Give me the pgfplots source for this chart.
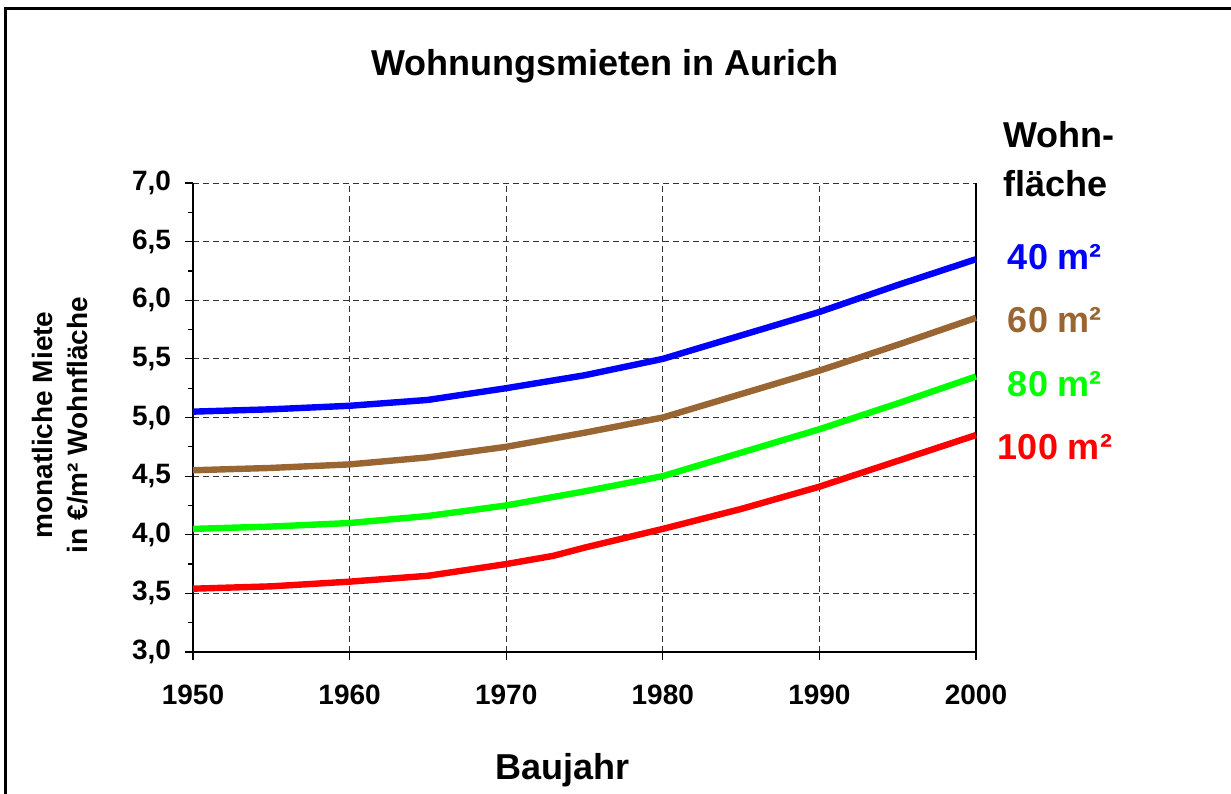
\documentclass[border=0pt]{standalone}
\usepackage{fontspec}
\setmainfont{Liberation Sans}
\usepackage{pgfplots}
\pgfplotsset{compat=1.18}
\definecolor{cblue}{RGB}{0,0,255}
\definecolor{cbrown}{RGB}{153,102,51}
\definecolor{cgreen}{RGB}{0,255,0}
\definecolor{cred}{RGB}{255,0,0}
\begin{document}
\begin{tikzpicture}
\useasboundingbox (-96.5pt,-70.5pt) rectangle (519pt,326pt);
\draw[line width=1.5pt] (-93.5pt,-75pt) -- (-93.5pt,321.5pt) -- (525pt,321.5pt);
\begin{axis}[
 at={(0pt,0pt)}, anchor=south west,
 scale only axis, width=391.5pt, height=234.5pt,
 xmin=1950, xmax=2000, ymin=3, ymax=7,
 axis x line*=bottom, axis y line*=left,
 axis line style={-, line width=1pt, black},
 xtick={1950,1960,...,2000}, ytick={3,3.5,...,7},
 minor y tick num=1,
 tick align=outside,
 major tick length=4pt, minor tick length=2.5pt,
 tick style={black, line width=0.6pt},
 grid=major,
 major grid style={dash pattern=on 3pt off 2pt, black!80, line width=0.5pt},
 extra x ticks={2000}, extra x tick labels={},
 extra x tick style={grid=major, major grid style={solid, black, line width=0.6pt}, major tick length=0pt},
 ticklabel style={font=\fontsize{14}{16}\selectfont\bfseries},
 /pgf/number format/assume math mode=true,
 xticklabel style={/pgf/number format/1000 sep={}, yshift=-9pt},
 yticklabel style={/pgf/number format/.cd, fixed, fixed zerofill, precision=1, use comma, 1000 sep={}, /tikz/xshift=-3.5pt},
 xlabel={Baujahr},
 xlabel style={at={(axis description cs:0.4725,0)}, anchor=base, yshift=-63.5pt, font=\fontsize{18}{22}\selectfont\bfseries},
 ylabel={monatliche Miete\\in €/m² Wohnfläche},
 ylabel style={at={(axis description cs:-0.1699,0.484)}, anchor=center, align=center, font=\fontsize{14}{17.5}\selectfont\bfseries},
 clip=false,
]
\addplot[cblue, line width=3.2pt, line join=round] coordinates {
(1950,5.05) (1955,5.07) (1960,5.10) (1965,5.15) (1970,5.25) (1975,5.36) (1980,5.50) (1985,5.70) (1990,5.90) (1995,6.13) (2000,6.35)};
\addplot[cbrown, line width=3.2pt, line join=round] coordinates {
(1950,4.55) (1955,4.57) (1960,4.60) (1965,4.66) (1970,4.75) (1975,4.87) (1980,5.00) (1985,5.20) (1990,5.40) (1995,5.62) (2000,5.85)};
\addplot[cgreen, line width=3.2pt, line join=round] coordinates {
(1950,4.05) (1955,4.07) (1960,4.10) (1965,4.16) (1970,4.25) (1975,4.37) (1980,4.50) (1985,4.70) (1990,4.90) (1995,5.12) (2000,5.35)};
\addplot[cred, line width=3.2pt, line join=round] coordinates {
(1950,3.54) (1955,3.56) (1960,3.60) (1965,3.65) (1970,3.75) (1973,3.82) (1975,3.89) (1980,4.05) (1985,4.22) (1990,4.41) (1995,4.63) (2000,4.85)};
\end{axis}
\node[anchor=base, font=\fontsize{18}{22}\selectfont\bfseries] at (206pt,288pt) {Wohnungsmieten in Aurich};
\node[anchor=base west, inner sep=0pt, font=\fontsize{18}{22}\selectfont\bfseries] at (405pt,252pt) {Wohn-};
\node[anchor=base west, inner sep=0pt, font=\fontsize{18}{22}\selectfont\bfseries] at (405pt,227.5pt) {fläche};
\node[anchor=base, inner sep=0pt, text=cblue, font=\fontsize{18}{22}\selectfont\bfseries] at (431pt,191pt) {40 m²};
\node[anchor=base, inner sep=0pt, text=cbrown, font=\fontsize{18}{22}\selectfont\bfseries] at (431pt,159.5pt) {60 m²};
\node[anchor=base, inner sep=0pt, text=cgreen, font=\fontsize{18}{22}\selectfont\bfseries] at (431pt,127.5pt) {80 m²};
\node[anchor=base, inner sep=0pt, text=cred, font=\fontsize{18}{22}\selectfont\bfseries] at (431pt,96pt) {100 m²};
\end{tikzpicture}
\end{document}
